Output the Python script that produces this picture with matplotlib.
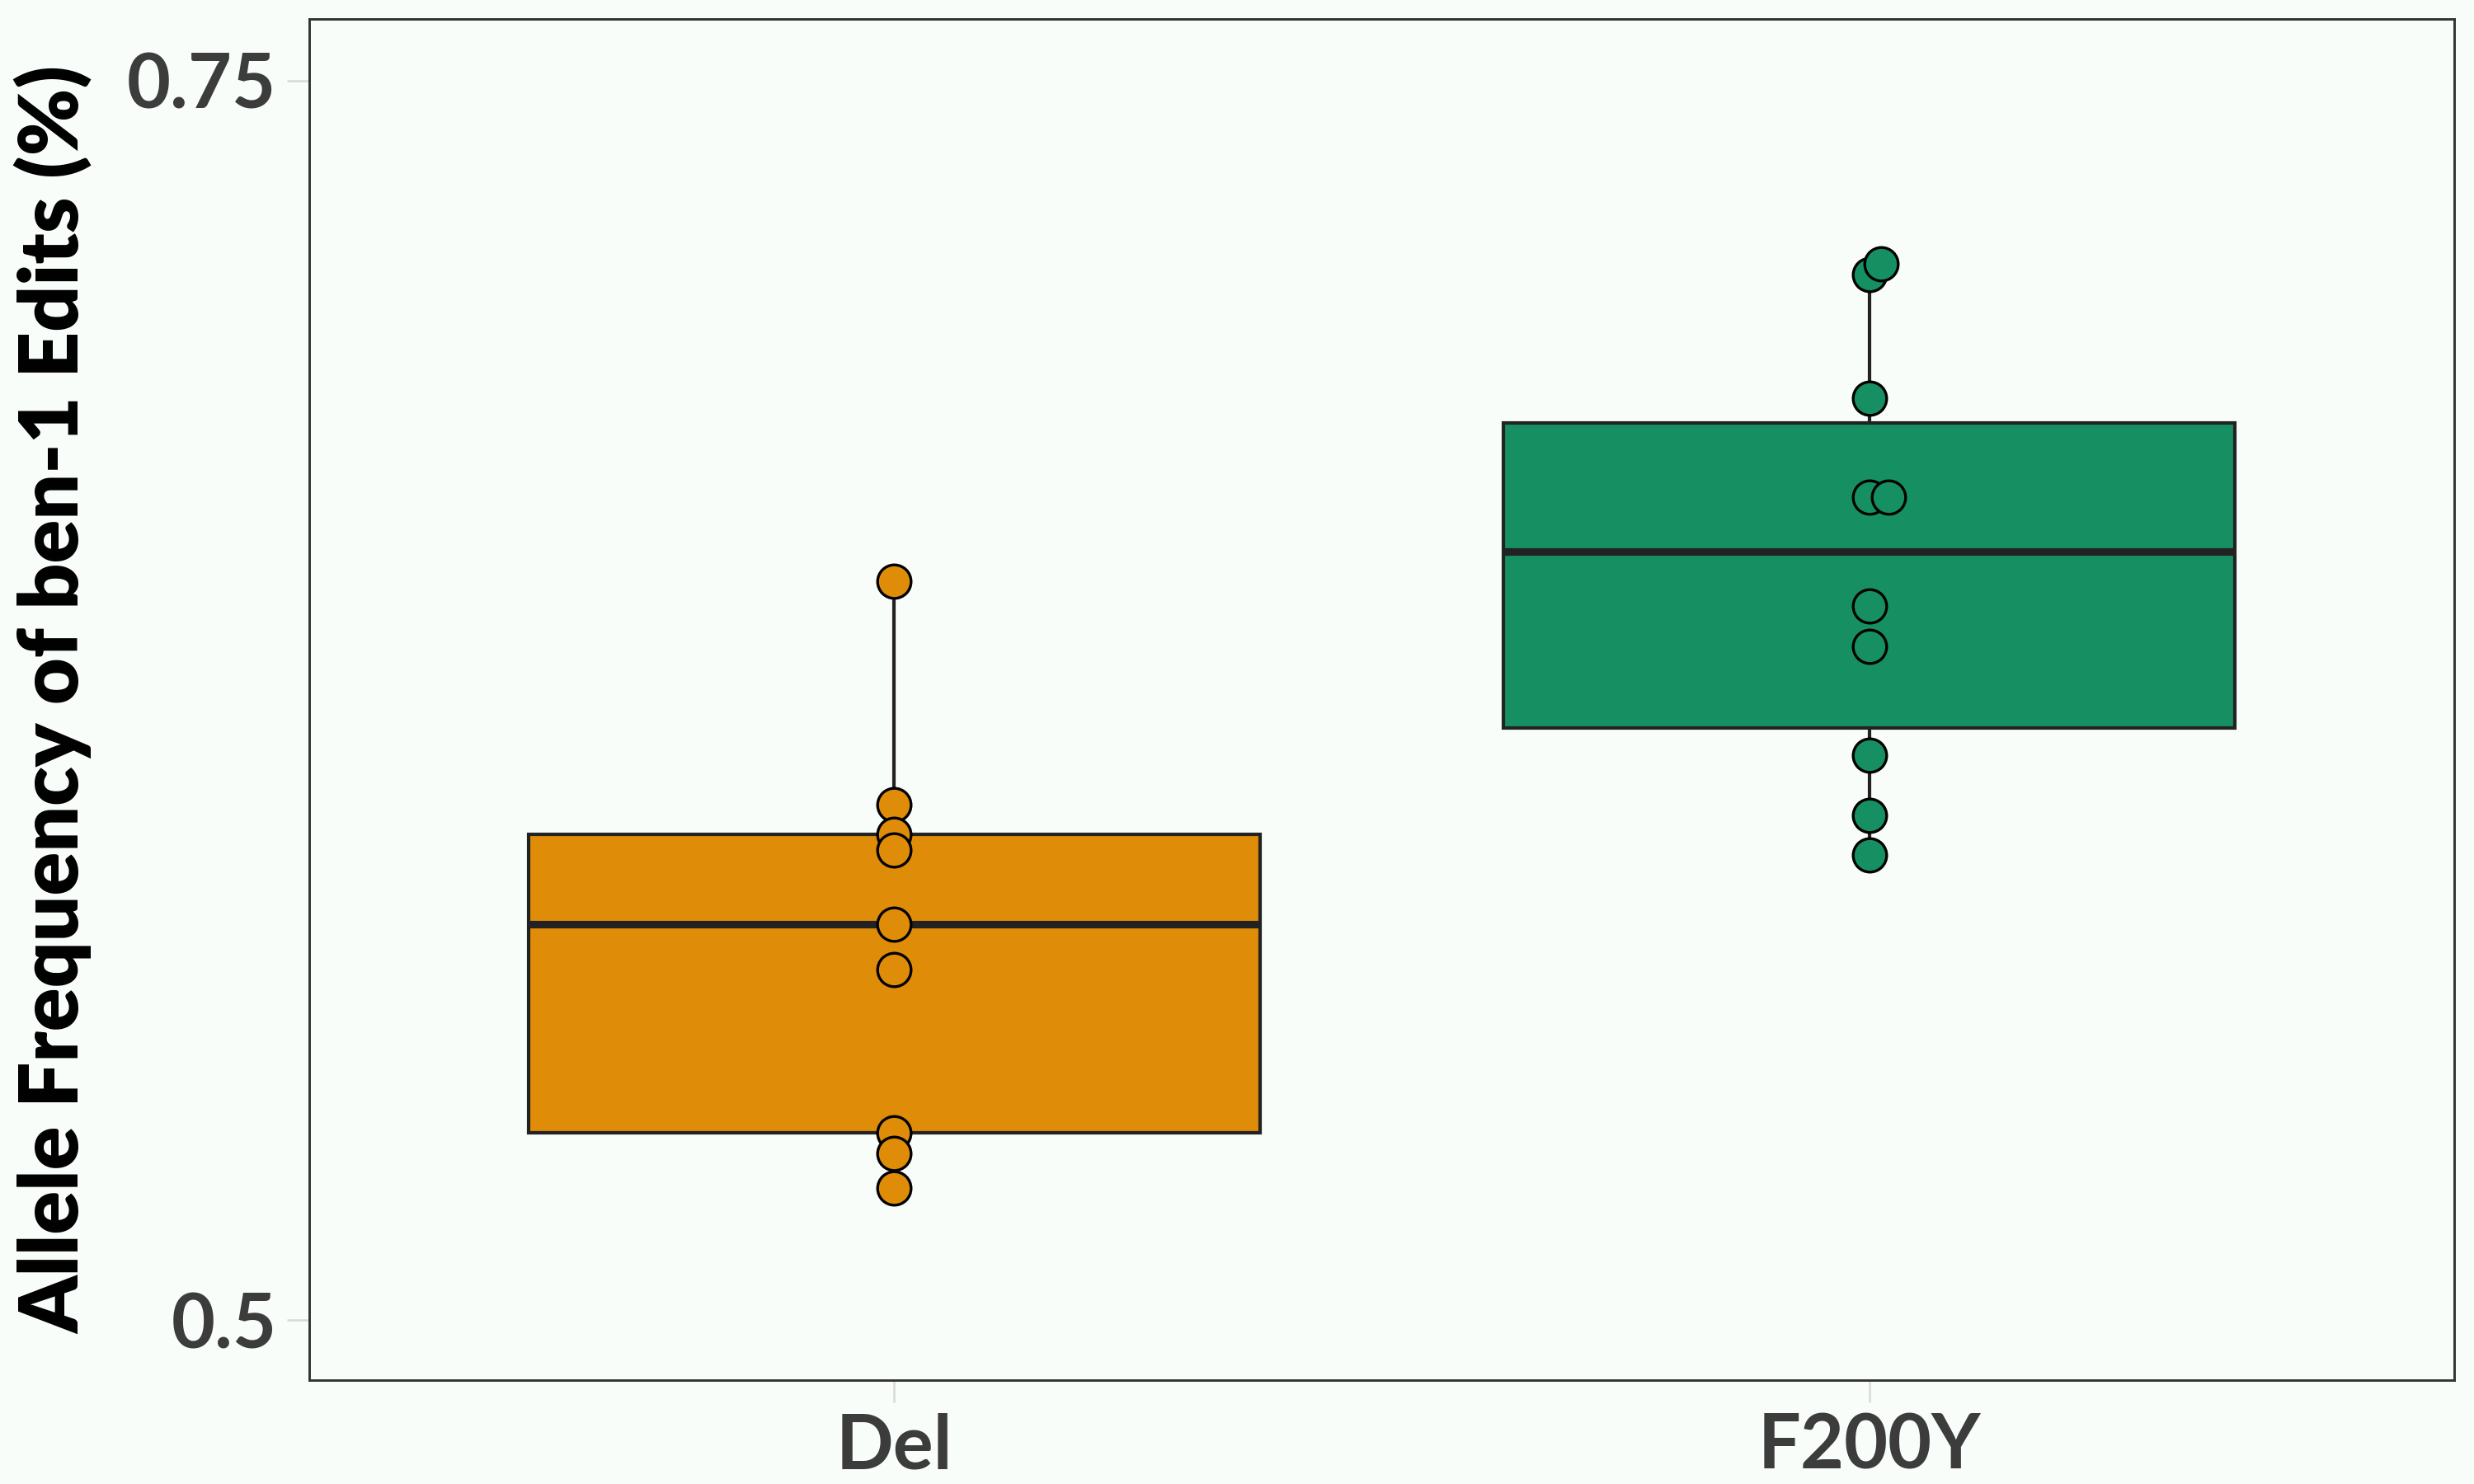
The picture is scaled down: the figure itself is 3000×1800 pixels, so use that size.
"""
Allele frequency of ben-1 edits by edit type: boxplot with overlaid points.
"""

import matplotlib
matplotlib.use("Agg")
import matplotlib.pyplot as plt
import numpy as np

# ---- data ----
categories = ["Del", "F200Y"]

del_values = [0.6490, 0.6039, 0.5980, 0.5948, 0.5799, 0.5708, 0.5378, 0.5336, 0.5267]
del_offsets = [0, 0, 0, 0, 0, 0, 0, 0, 0]

f200y_values = [0.7109, 0.7131, 0.6860, 0.6660, 0.6660, 0.6440, 0.6359, 0.6139, 0.6019, 0.5939]
f200y_offsets = [0, 0.012, 0, 0, 0.02, 0, 0, 0, 0, 0]

box_colors = ["#DF8C09", "#169062"]
bg_color = "#F8FDF9"

y_ticks = [0.5, 0.75]
y_tick_labels = ["0.5", "0.75"]


def main() -> None:
    plt.rcParams.update({"font.family": ["Lato", "DejaVu Sans"]})

    fig = plt.figure(figsize=(10, 6), dpi=300, facecolor=bg_color)
    ax = fig.add_axes([0.125, 0.07, 0.867, 0.917])
    ax.set_facecolor(bg_color)

    series = [del_values, f200y_values]
    offsets = [del_offsets, f200y_offsets]
    positions = np.arange(len(categories))

    bp = ax.boxplot(
        series,
        positions=positions,
        widths=0.75,
        whis=1.5,
        patch_artist=True,
        showcaps=False,
        showfliers=False,
        boxprops=dict(edgecolor="#222222", linewidth=1.0),
        whiskerprops=dict(color="#222222", linewidth=1.0),
        medianprops=dict(color="#222222", linewidth=2.2),
        zorder=2,
    )
    for patch, color in zip(bp["boxes"], box_colors):
        patch.set_facecolor(color)

    for pos, vals, offs, color in zip(positions, series, offsets, box_colors):
        xs = pos + np.asarray(offs)
        ax.scatter(xs, vals, s=95, facecolor=color, edgecolor="black",
                   linewidth=0.8, zorder=3)

    ax.set_xlim(-0.6, 1.6)
    ax.set_ylim(0.4879, 0.7624)
    ax.set_xticks(positions)
    ax.set_xticklabels(categories, fontweight="bold")
    ax.set_yticks(y_ticks)
    ax.set_yticklabels(y_tick_labels, fontweight="bold")

    ax.tick_params(axis="both", length=6.5, width=0.6, color="#D9D9D9",
                   labelsize=22, labelcolor="#3C3C3C", pad=3)
    for spine in ax.spines.values():
        spine.set_color("#333333")
        spine.set_linewidth(0.7)

    ax.set_ylabel("Allele Frequency of ben-1 Edits (%)", fontsize=23.5,
                  fontweight="heavy", color="black", labelpad=10)

    fig.savefig("out.png", dpi=300, facecolor=bg_color)
    plt.close(fig)


if __name__ == "__main__":
    main()
